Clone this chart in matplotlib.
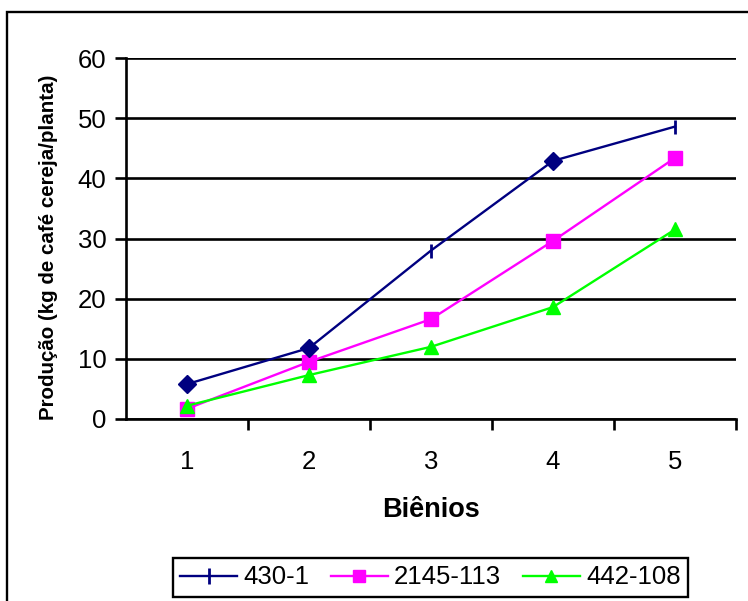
import matplotlib
matplotlib.use("Agg")
import matplotlib.pyplot as plt
from matplotlib.patches import Rectangle
from matplotlib.lines import Line2D

plt.rcParams['font.family'] = ['Liberation Sans', 'DejaVu Sans']

bienios = [1, 2, 3, 4, 5]
s430 = [5.8, 11.8, 28.0, 42.9, 48.6]
s2145 = [1.7, 9.5, 16.6, 29.6, 43.4]
s442 = [2.2, 7.3, 12.0, 18.6, 31.5]
names = ["430-1", "2145-113", "442-108"]
yticks = [0, 10, 20, 30, 40, 50, 60]

W, H = 748, 601
fig = plt.figure(figsize=(W / 100, H / 100), dpi=100)
ax = fig.add_axes([126 / W, (H - 419) / H, (736 - 126) / W, (419 - 58) / H])

# outer frame
fig.patches.append(Rectangle((6.5 / W, -0.05), 1.2, (H - 12.5) / H + 0.05,
                             transform=fig.transFigure, fill=False,
                             edgecolor='black', linewidth=1.7, zorder=0))

lw = 1.7
glw = 1.9
ax.plot(bienios, s430, color='#000080', lw=lw, marker='|', ms=10, mew=2, zorder=3)
diam_idx = [0, 1, 3]
ax.plot([bienios[i] for i in diam_idx], [s430[i] for i in diam_idx],
        ls='none', marker='D', ms=9, color='#000080', zorder=4)
ax.plot(bienios, s2145, color='#FF00FF', lw=lw, marker='s', ms=10, zorder=3)
ax.plot(bienios, s442, color='#00FF00', lw=lw, marker='^', ms=10, zorder=3)

ax.set_xlim(0.5, 5.5)
ax.set_ylim(0, 60)
ax.set_yticks(yticks)
ax.set_xticks(bienios)
ax.set_xticks([1.5, 2.5, 3.5, 4.5, 5.5], minor=True)
ax.tick_params(axis='x', which='major', length=0, pad=22, labelsize=18.5)
ax.tick_params(axis='x', which='minor', length=8, width=glw, direction='out')
ax.tick_params(axis='y', which='major', length=8, width=glw, direction='out', pad=6, labelsize=18.5)
ax.grid(axis='y', color='black', lw=glw, zorder=1)
ax.set_axisbelow(True)
for sp in ['top', 'right']:
    ax.spines[sp].set_visible(False)
for sp in ['left', 'bottom']:
    ax.spines[sp].set_linewidth(glw)

fig.text(431 / W, 1 - 510 / H, "Biênios", ha='center', va='center',
         fontsize=19.5, fontweight='bold')
fig.text(48 / W, 1 - 247 / H, "Produção (kg de café cereja/planta)", ha='center',
         va='center', rotation=90, fontsize=14.8, fontweight='bold')

handles = [
    Line2D([], [], color='#000080', lw=lw, marker='|', ms=11, mew=2),
    Line2D([], [], color='#FF00FF', lw=lw, marker='s', ms=8),
    Line2D([], [], color='#00FF00', lw=lw, marker='^', ms=8),
]
leg = fig.legend(handles, names, loc='center', bbox_to_anchor=(430.5 / W, 1 - 577.5 / H),
                 ncol=3, fontsize=18.5, frameon=True, fancybox=False, framealpha=1,
                 edgecolor='black', handlelength=2.2, handletextpad=0.25,
                 columnspacing=0.85, borderpad=0.3, borderaxespad=0)
leg.get_frame().set_linewidth(1.7)

fig.savefig("out.png", dpi=100)
